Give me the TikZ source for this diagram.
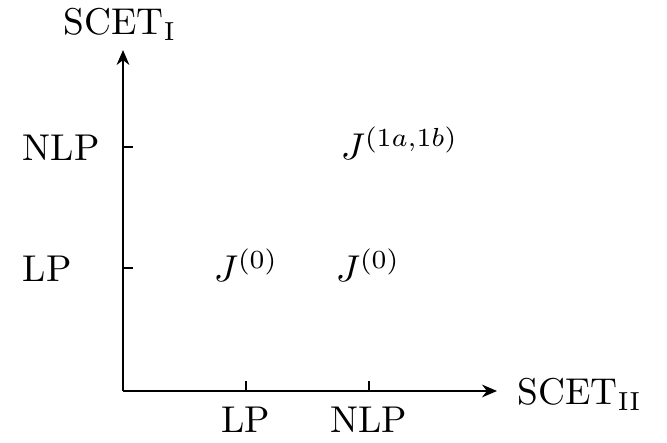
\documentclass[tikz,border=0pt]{standalone}
\usetikzlibrary{arrows.meta,positioning}

\begin{document}
\begin{tikzpicture}[
    x=0.268pt, y=0.268pt,
    every node/.style={font=\normalsize, inner sep=0pt},
    axis/.style={-{Stealth[length=4pt,width=3.4pt]}, semithick},
    tick/.style={semithick},
    lbl/.style={anchor=base},
    lblw/.style={anchor=base west},
]
\useasboundingbox (0,0) rectangle (667,443);
\coordinate (O) at (123,52);
\coordinate (ytip) at (123,393);
\coordinate (xtip) at (497,52);
\draw[axis] (O) -- (ytip);
\draw[axis] (O) -- (xtip);
% ticks
\coordinate (tLPx) at (246,52);
\coordinate (tNLPx) at (369,52);
\coordinate (tLPy) at (123,175);
\coordinate (tNLPy) at (123,296);
\draw[tick] (tLPx) -- ++(0,10);
\draw[tick] (tNLPx) -- ++(0,10);
\draw[tick] (tLPy) -- ++(10,0);
\draw[tick] (tNLPy) -- ++(10,0);
% axis labels
\node[lblw] (scetI) at (63,408) {SCET$_{\rm I}$};
\node[lblw] (scetII) at (517,38) {SCET$_{\rm II}$};
\node[lbl] (xLP) at (246,10) {LP};
\node[lbl] (xNLP) at (369,10) {NLP};
\node[lblw] (yLP) at (22,161) {LP};
\node[lblw] (yNLP) at (22,282) {NLP};
% entries
\node[lblw] (j0a) at (213,161) {$J^{(0)}$};
\node[lblw] (j0b) at (335,161) {$J^{(0)}$};
\node[lblw] (j1) at (340,283) {$J^{(1a,1b)}$};
\end{tikzpicture}
\end{document}
